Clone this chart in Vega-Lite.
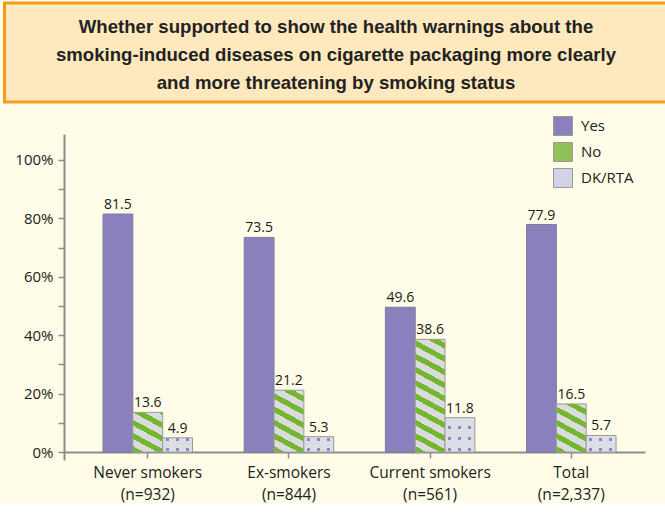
{
  "$schema": "https://vega.github.io/schema/vega-lite/v6.json",
  "background": "#fffde7",
  "padding": {"left": 3, "top": 1, "right": 0, "bottom": 0},
  "spacing": 12,
  "resolve": {"legend": {"fill": "independent"}, "scale": {"fill": "independent"}},
  "config": {"font": "Open Sans", "view": {"stroke": null}},
  "vconcat": [
    {
      "width": 601,
      "height": 99,
      "data": {"values": [
        {"i": 1, "line": "Whether supported to show the health warnings about the"},
        {"i": 2, "line": "smoking-induced diseases on cigarette packaging more clearly"},
        {"i": 3, "line": "and more threatening by smoking status"}
      ]},
      "layer": [
        {
          "data": {"values": [{"band": "title"}]},
          "mark": {"type": "rect", "fill": "#fde9bd", "stroke": "#f29b1d", "strokeWidth": 3},
          "encoding": {
            "x": {"datum": -0.099, "type": "quantitative", "scale": {"domain": [0, 1], "nice": false, "zero": false}, "axis": null},
            "x2": {"datum": 1.01}
          }
        },
        {
          "mark": {"type": "text", "font": "Liberation Sans", "fontWeight": "bold", "fontSize": 18.6, "color": "#222222", "baseline": "middle", "dy": 2.5},
          "encoding": {
            "x": {"datum": 0.4526, "type": "quantitative", "axis": null},
            "y": {"field": "i", "type": "ordinal", "axis": null, "scale": {"padding": 0.737}},
            "text": {"field": "line"}
          }
        }
      ]
    },
    {
      "width": 581,
      "height": 326,
      "data": {"values": [
        {"group": "Never smokers (n=932)", "answer": "Yes", "value": 81.5},
        {"group": "Never smokers (n=932)", "answer": "No", "value": 13.6},
        {"group": "Never smokers (n=932)", "answer": "DK/RTA", "value": 4.9},
        {"group": "Ex-smokers (n=844)", "answer": "Yes", "value": 73.5},
        {"group": "Ex-smokers (n=844)", "answer": "No", "value": 21.2},
        {"group": "Ex-smokers (n=844)", "answer": "DK/RTA", "value": 5.3},
        {"group": "Current smokers (n=561)", "answer": "Yes", "value": 49.6},
        {"group": "Current smokers (n=561)", "answer": "No", "value": 38.6},
        {"group": "Current smokers (n=561)", "answer": "DK/RTA", "value": 11.8},
        {"group": "Total (n=2,337)", "answer": "Yes", "value": 77.9},
        {"group": "Total (n=2,337)", "answer": "No", "value": 16.5},
        {"group": "Total (n=2,337)", "answer": "DK/RTA", "value": 5.7}
      ]},
      "encoding": {
        "x": {
          "field": "group", "type": "nominal",
          "scale": {"domain": ["Never smokers (n=932)", "Ex-smokers (n=844)", "Current smokers (n=561)", "Total (n=2,337)"], "paddingInner": 0.366, "paddingOuter": 0.2408, "align": 0.574},
          "axis": {"title": null, "labelExpr": "split(replace(datum.label, ' (', '|('), '|')", "labelFontSize": 15.5, "labelColor": "#222222", "labelLineHeight": 22, "labelPadding": 7, "labelAngle": 0, "tickSize": 6, "tickColor": "#8c8c8c", "tickWidth": 1.5, "domainColor": "#8c8c8c", "domainWidth": 2, "offset": -8}
        },
        "xOffset": {"field": "answer", "type": "nominal", "scale": {"domain": ["Yes", "No", "DK/RTA"], "paddingInner": 0, "paddingOuter": 0}},
        "y": {
          "field": "value", "type": "quantitative",
          "scale": {"domain": [-2.7, 108.9], "nice": false, "zero": false},
          "axis": {"title": null, "values": [0, 10, 20, 30, 40, 50, 60, 70, 80, 90, 100], "labelExpr": "datum.value % 20 === 0 ? datum.value + '%' : ''", "labelFontSize": 15, "labelColor": "#222222", "labelPadding": 5, "tickSize": 6, "tickColor": "#8c8c8c", "tickWidth": 1.5, "domainColor": "#8c8c8c", "domainWidth": 2, "grid": false, "minExtent": 61}
        }
      },
      "layer": [
        {
          "transform": [{"filter": "datum.answer === 'Yes'"}],
          "mark": {"type": "bar", "stroke": "#7d7a9c", "strokeWidth": 1},
          "encoding": {
            "y2": {"datum": 0},
            "fill": {
              "field": "answer", "type": "nominal",
              "scale": {"domain": ["Yes", "No", "DK/RTA"], "range": ["#8b80be", "#8fc25a", "#d3d3e6"]},
              "legend": {
                "title": null, "orient": "none", "legendX": 489, "legendY": -18, "padding": 0,
                "symbolType": "square", "symbolSize": 361, "symbolStrokeColor": "#9a9a9a", "symbolStrokeWidth": 1, "symbolOpacity": 1,
                "labelFontSize": 15, "labelColor": "#222222", "labelOffset": 8, "rowPadding": 2
              }
            }
          }
        },
        {
          "transform": [{"filter": "datum.answer === 'No'"}],
          "mark": {"type": "bar", "stroke": "#9a9a9a", "strokeWidth": 1},
          "encoding": {
            "y2": {"datum": 0},
            "fill": {
              "condition": [
                {"test": "indexof(datum.group, 'Never') === 0", "value": {"gradient": "linear", "x1": 0, "y1": 1, "x2": 0.4913, "y2": -0.2071, "stops": [
                  {"offset": 0, "color": "#74b72e"}, {"offset": 0.1068, "color": "#74b72e"}, {"offset": 0.1068, "color": "#dadbdc"}, {"offset": 0.2373, "color": "#dadbdc"},
                  {"offset": 0.2373, "color": "#74b72e"}, {"offset": 0.3441, "color": "#74b72e"}, {"offset": 0.3441, "color": "#dadbdc"}, {"offset": 0.4746, "color": "#dadbdc"},
                  {"offset": 0.4746, "color": "#74b72e"}, {"offset": 0.5814, "color": "#74b72e"}, {"offset": 0.5814, "color": "#dadbdc"}, {"offset": 0.7119, "color": "#dadbdc"},
                  {"offset": 0.7119, "color": "#74b72e"}, {"offset": 0.8187, "color": "#74b72e"}, {"offset": 0.8187, "color": "#dadbdc"}, {"offset": 0.9492, "color": "#dadbdc"},
                  {"offset": 0.9492, "color": "#74b72e"}, {"offset": 1, "color": "#74b72e"}]}},
                {"test": "indexof(datum.group, 'Ex') === 0", "value": {"gradient": "linear", "x1": 0, "y1": 1, "x2": 0.3083, "y2": -0.1806, "stops": [
                  {"offset": 0, "color": "#74b72e"}, {"offset": 0.0764, "color": "#74b72e"}, {"offset": 0.0764, "color": "#dadbdc"}, {"offset": 0.1698, "color": "#dadbdc"},
                  {"offset": 0.1698, "color": "#74b72e"}, {"offset": 0.2462, "color": "#74b72e"}, {"offset": 0.2462, "color": "#dadbdc"}, {"offset": 0.3396, "color": "#dadbdc"},
                  {"offset": 0.3396, "color": "#74b72e"}, {"offset": 0.4161, "color": "#74b72e"}, {"offset": 0.4161, "color": "#dadbdc"}, {"offset": 0.5095, "color": "#dadbdc"},
                  {"offset": 0.5095, "color": "#74b72e"}, {"offset": 0.5859, "color": "#74b72e"}, {"offset": 0.5859, "color": "#dadbdc"}, {"offset": 0.6793, "color": "#dadbdc"},
                  {"offset": 0.6793, "color": "#74b72e"}, {"offset": 0.7557, "color": "#74b72e"}, {"offset": 0.7557, "color": "#dadbdc"}, {"offset": 0.8491, "color": "#dadbdc"},
                  {"offset": 0.8491, "color": "#74b72e"}, {"offset": 0.9255, "color": "#74b72e"}, {"offset": 0.9255, "color": "#dadbdc"}, {"offset": 1, "color": "#dadbdc"}]}},
                {"test": "indexof(datum.group, 'Current') === 0", "value": {"gradient": "linear", "x1": 0, "y1": 1, "x2": 0.1607, "y2": -0.1204, "stops": [
                  {"offset": 0, "color": "#74b72e"}, {"offset": 0.0463, "color": "#74b72e"}, {"offset": 0.0463, "color": "#dadbdc"}, {"offset": 0.1029, "color": "#dadbdc"},
                  {"offset": 0.1029, "color": "#74b72e"}, {"offset": 0.1492, "color": "#74b72e"}, {"offset": 0.1492, "color": "#dadbdc"}, {"offset": 0.2058, "color": "#dadbdc"},
                  {"offset": 0.2058, "color": "#74b72e"}, {"offset": 0.2521, "color": "#74b72e"}, {"offset": 0.2521, "color": "#dadbdc"}, {"offset": 0.3086, "color": "#dadbdc"},
                  {"offset": 0.3086, "color": "#74b72e"}, {"offset": 0.3549, "color": "#74b72e"}, {"offset": 0.3549, "color": "#dadbdc"}, {"offset": 0.4115, "color": "#dadbdc"},
                  {"offset": 0.4115, "color": "#74b72e"}, {"offset": 0.4578, "color": "#74b72e"}, {"offset": 0.4578, "color": "#dadbdc"}, {"offset": 0.5144, "color": "#dadbdc"},
                  {"offset": 0.5144, "color": "#74b72e"}, {"offset": 0.5607, "color": "#74b72e"}, {"offset": 0.5607, "color": "#dadbdc"}, {"offset": 0.6173, "color": "#dadbdc"},
                  {"offset": 0.6173, "color": "#74b72e"}, {"offset": 0.6636, "color": "#74b72e"}, {"offset": 0.6636, "color": "#dadbdc"}, {"offset": 0.7202, "color": "#dadbdc"},
                  {"offset": 0.7202, "color": "#74b72e"}, {"offset": 0.7665, "color": "#74b72e"}, {"offset": 0.7665, "color": "#dadbdc"}, {"offset": 0.8230, "color": "#dadbdc"},
                  {"offset": 0.8230, "color": "#74b72e"}, {"offset": 0.8693, "color": "#74b72e"}, {"offset": 0.8693, "color": "#dadbdc"}, {"offset": 0.9259, "color": "#dadbdc"},
                  {"offset": 0.9259, "color": "#74b72e"}, {"offset": 0.9722, "color": "#74b72e"}, {"offset": 0.9722, "color": "#dadbdc"}, {"offset": 1, "color": "#dadbdc"}]}}
              ],
              "value": {"gradient": "linear", "x1": 0, "y1": 1, "x2": 0.4027, "y2": -0.2003, "stops": [
                {"offset": 0, "color": "#74b72e"}, {"offset": 0.0927, "color": "#74b72e"}, {"offset": 0.0927, "color": "#dadbdc"}, {"offset": 0.2060, "color": "#dadbdc"},
                {"offset": 0.2060, "color": "#74b72e"}, {"offset": 0.2988, "color": "#74b72e"}, {"offset": 0.2988, "color": "#dadbdc"}, {"offset": 0.4121, "color": "#dadbdc"},
                {"offset": 0.4121, "color": "#74b72e"}, {"offset": 0.5048, "color": "#74b72e"}, {"offset": 0.5048, "color": "#dadbdc"}, {"offset": 0.6181, "color": "#dadbdc"},
                {"offset": 0.6181, "color": "#74b72e"}, {"offset": 0.7109, "color": "#74b72e"}, {"offset": 0.7109, "color": "#dadbdc"}, {"offset": 0.8242, "color": "#dadbdc"},
                {"offset": 0.8242, "color": "#74b72e"}, {"offset": 0.9169, "color": "#74b72e"}, {"offset": 0.9169, "color": "#dadbdc"}, {"offset": 1, "color": "#dadbdc"}]}
            }
          }
        },
        {
          "transform": [{"filter": "datum.answer === 'DK/RTA'"}],
          "mark": {"type": "bar", "strokeWidth": 0},
          "encoding": {
            "y2": {"datum": 0},
            "fill": {
              "condition": [
                {"test": "indexof(datum.group, 'Never') === 0", "value": {"gradient": "linear", "x1": 0, "y1": 1, "x2": 0, "y2": 0, "stops": [
                  {"offset": 0, "color": "#dcdee6"}, {"offset": 0.0696, "color": "#dcdee6"}, {"offset": 0.0696, "color": "#8f86c9"}, {"offset": 0.2786, "color": "#8f86c9"}, {"offset": 0.2786, "color": "#dcdee6"},
                  {"offset": 0.766, "color": "#dcdee6"}, {"offset": 0.766, "color": "#8f86c9"}, {"offset": 0.975, "color": "#8f86c9"}, {"offset": 0.975, "color": "#dcdee6"}, {"offset": 1, "color": "#dcdee6"}]}},
                {"test": "indexof(datum.group, 'Ex') === 0", "value": {"gradient": "linear", "x1": 0, "y1": 1, "x2": 0, "y2": 0, "stops": [
                  {"offset": 0, "color": "#dcdee6"}, {"offset": 0.0644, "color": "#dcdee6"}, {"offset": 0.0644, "color": "#8f86c9"}, {"offset": 0.2576, "color": "#8f86c9"}, {"offset": 0.2576, "color": "#dcdee6"},
                  {"offset": 0.7083, "color": "#dcdee6"}, {"offset": 0.7083, "color": "#8f86c9"}, {"offset": 0.9015, "color": "#8f86c9"}, {"offset": 0.9015, "color": "#dcdee6"}, {"offset": 1, "color": "#dcdee6"}]}},
                {"test": "indexof(datum.group, 'Current') === 0", "value": {"gradient": "linear", "x1": 0, "y1": 1, "x2": 0, "y2": 0, "stops": [
                  {"offset": 0, "color": "#dcdee6"}, {"offset": 0.0289, "color": "#dcdee6"}, {"offset": 0.0289, "color": "#8f86c9"}, {"offset": 0.1157, "color": "#8f86c9"}, {"offset": 0.1157, "color": "#dcdee6"},
                  {"offset": 0.3471, "color": "#dcdee6"}, {"offset": 0.3471, "color": "#8f86c9"}, {"offset": 0.4339, "color": "#8f86c9"}, {"offset": 0.4339, "color": "#dcdee6"},
                  {"offset": 0.6798, "color": "#dcdee6"}, {"offset": 0.6798, "color": "#8f86c9"}, {"offset": 0.7666, "color": "#8f86c9"}, {"offset": 0.7666, "color": "#dcdee6"}, {"offset": 1, "color": "#dcdee6"}]}}
              ],
              "value": {"gradient": "linear", "x1": 0, "y1": 1, "x2": 0, "y2": 0, "stops": [
                {"offset": 0, "color": "#dcdee6"}, {"offset": 0.0599, "color": "#dcdee6"}, {"offset": 0.0599, "color": "#8f86c9"}, {"offset": 0.2395, "color": "#8f86c9"}, {"offset": 0.2395, "color": "#dcdee6"},
                {"offset": 0.6587, "color": "#dcdee6"}, {"offset": 0.6587, "color": "#8f86c9"}, {"offset": 0.8383, "color": "#8f86c9"}, {"offset": 0.8383, "color": "#dcdee6"}, {"offset": 1, "color": "#dcdee6"}]}
            }
          }
        },
        {
          "transform": [{"filter": "datum.answer === 'DK/RTA'"}],
          "mark": {
            "type": "bar", "stroke": "#9a9a9a", "strokeWidth": 1,
            "fill": {"gradient": "linear", "x1": 0, "y1": 0, "x2": 1, "y2": 0, "stops": [
              {"offset": 0, "color": "#dcdee6"}, {"offset": 0.095, "color": "#dcdee6"}, {"offset": 0.095, "color": "rgba(220,222,230,0)"}, {"offset": 0.197, "color": "rgba(220,222,230,0)"}, {"offset": 0.197, "color": "#dcdee6"},
              {"offset": 0.434, "color": "#dcdee6"}, {"offset": 0.434, "color": "rgba(220,222,230,0)"}, {"offset": 0.536, "color": "rgba(220,222,230,0)"}, {"offset": 0.536, "color": "#dcdee6"},
              {"offset": 0.773, "color": "#dcdee6"}, {"offset": 0.773, "color": "rgba(220,222,230,0)"}, {"offset": 0.875, "color": "rgba(220,222,230,0)"}, {"offset": 0.875, "color": "#dcdee6"}, {"offset": 1, "color": "#dcdee6"}]}
          },
          "encoding": {"y2": {"datum": 0}}
        },
        {
          "mark": {"type": "text", "fontSize": 14, "color": "#1a1a1a", "baseline": "alphabetic", "dy": -5},
          "encoding": {"text": {"field": "value", "type": "quantitative", "format": ".1f"}}
        }
      ]
    }
  ]
}
